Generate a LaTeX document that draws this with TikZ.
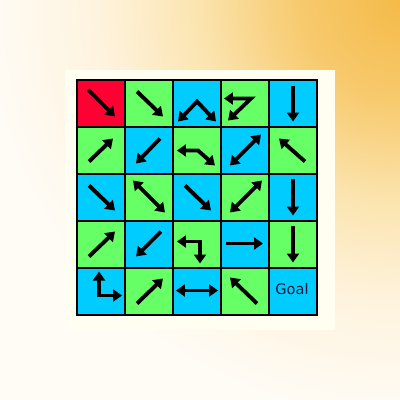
\documentclass[tikz,border=0pt]{standalone}
\usepackage{fontspec}
\setmainfont{DejaVu Sans}
\usetikzlibrary{arrows.meta}

\definecolor{bgorange}{RGB}{245,186,72}
\definecolor{bgmidA}{RGB}{247,202,110}
\definecolor{bgmidB}{RGB}{251,228,175}
\definecolor{bgmidC}{RGB}{254,243,222}
\definecolor{bgwhite}{RGB}{255,252,246}
\definecolor{panelcream}{RGB}{255,254,240}
\definecolor{cellred}{RGB}{255,0,51}
\definecolor{cellgreen}{RGB}{102,255,102}
\definecolor{cellblue}{RGB}{0,204,255}
\definecolor{goaltext}{RGB}{10,25,60}

\pgfdeclareradialshading{bgglow}{\pgfpoint{0bp}{0bp}}{color(0bp)=(bgorange); color(6bp)=(bgmidA); color(12bp)=(bgmidB); color(18bp)=(bgmidC); color(25bp)=(bgwhite); color(50bp)=(bgwhite)}

\begin{document}
\begin{tikzpicture}[
    x=0.02cm, y=-0.02cm,
    cell/.style={draw, line width=1.1pt, minimum width=0.96cm, minimum height=0.94cm, inner sep=0pt},
    arr/.style={line width=2.2pt, -{Triangle[length=1.8mm, width=2.4mm]}},
    dblarr/.style={line width=2.2pt, {Triangle[length=1.8mm, width=2.4mm]}-{Triangle[length=1.8mm, width=2.4mm]}}
]
    \useasboundingbox (0,0) rectangle (400,400);
    % background
    \begin{scope}
        \clip (0,0) rectangle (400,400);
        \fill[bgwhite] (0,0) rectangle (400,400);
        \shade[shading=bgglow] (400,0) circle (420);
    \end{scope}
    \fill[panelcream] (65,70) rectangle (335,330);

    % grid
    \foreach \r in {1,...,5}{
        \foreach \c in {1,...,5}{
            \pgfmathtruncatemacro\s{\r+\c}
            \ifodd\s \def\cellcol{cellgreen}\else\def\cellcol{cellblue}\fi
            \ifnum\s=2 \def\cellcol{cellred}\fi
            \node[cell, fill=\cellcol] (c\r\c) at ({53+48*\c}, {56.5+47*\r}) {};
        }
    }

    % row 1
    \draw[arr] (c11.center) ++(-13,-14) -- ++(27,27);
    \draw[arr] (c12.center) ++(-12,-12) -- ++(26,25);
    \draw[dblarr] (c13.center) ++(-19,18) -- ++(19,-20) -- ++(19,20);
    \draw[dblarr] (c14.center) ++(-21,-5) -- ++(27,0) -- ++(-23,22);
    \draw[arr] (c15.center) ++(0,-18) -- ++(0,36);
    % row 2
    \draw[arr] (c21.center) ++(-12,11) -- ++(24,-23);
    \draw[arr] (c22.center) ++(11,-12) -- ++(-24,25);
    \draw[dblarr] (c23.center) ++(-20,0) -- ++(21,0) -- ++(17,15);
    \draw[dblarr] (c24.center) ++(-15,15) -- ++(31,-31);
    \draw[arr] (c25.center) ++(12,11) -- ++(-26,-23);
    % row 3
    \draw[arr] (c31.center) ++(-12,-12) -- ++(26,25);
    \draw[dblarr] (c32.center) ++(-16,-17) -- ++(32,32);
    \draw[arr] (c33.center) ++(-12,-12) -- ++(26,25);
    \draw[dblarr] (c34.center) ++(-15,15) -- ++(32,-32);
    \draw[arr] (c35.center) ++(0,-19) -- ++(0,37);
    % row 4
    \draw[arr] (c41.center) ++(-12,12) -- ++(26,-25);
    \draw[arr] (c42.center) ++(12,-13) -- ++(-25,25);
    \draw[dblarr] (c43.center) ++(-20,-3) -- ++(23,0) -- ++(0,22);
    \draw[arr] (c44.center) ++(-19,-1) -- ++(37,0);
    \draw[arr] (c45.center) ++(0,-19) -- ++(0,37);
    % row 5
    \draw[dblarr] (c51.center) ++(-2,-20) -- ++(0,24) -- ++(23,0);
    \draw[arr] (c52.center) ++(-12,12) -- ++(26,-25);
    \draw[dblarr] (c53.center) ++(-21,-1) -- ++(42,0);
    \draw[arr] (c54.center) ++(12,12) -- ++(-27,-26);
    \node[text=goaltext, font=\fontsize{8.3}{10}\selectfont] (goal) at ([shift={(-1,-2)}]c55.center) {Goal};
\end{tikzpicture}
\end{document}
